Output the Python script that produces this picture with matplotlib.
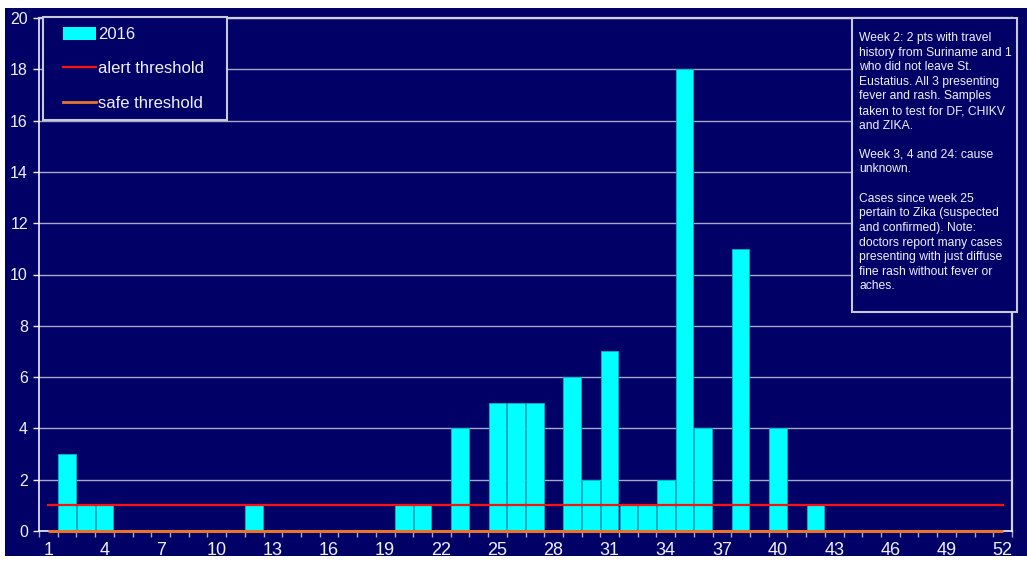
import numpy as np
import matplotlib
matplotlib.use("Agg")
import matplotlib.pyplot as plt
from matplotlib.patches import Rectangle, Patch
from matplotlib.lines import Line2D


##### Data

weeks = list(range(1, 53))
cases_2016 = [0, 3, 1, 1, 0, 0, 0, 0, 0, 0,
              0, 1, 0, 0, 0, 0, 0, 0, 0, 1,
              1, 0, 4, 0, 5, 5, 5, 0, 6, 2,
              7, 1, 1, 2, 18, 4, 0, 11, 0, 4,
              0, 1, 0, 0, 0, 0, 0, 0, 0, 0,
              0, 0]
alert_threshold = [1] * 52
safe_threshold = [0] * 52
xtick_labels = [1, 4, 7, 10, 13, 16, 19, 22, 25, 28, 31, 34, 37, 40, 43, 46, 49, 52]
ytick_values = [0, 2, 4, 6, 8, 10, 12, 14, 16, 18, 20]

note_text = ("Week 2: 2 pts with travel\n"
             "history from Suriname and 1\n"
             "who did not leave St.\n"
             "Eustatius. All 3 presenting\n"
             "fever and rash. Samples\n"
             "taken to test for DF, CHIKV\n"
             "and ZIKA.\n"
             "\n"
             "Week 3, 4 and 24: cause\n"
             "unknown.\n"
             "\n"
             "Cases since week 25\n"
             "pertain to Zika (suspected\n"
             "and confirmed). Note:\n"
             "doctors report many cases\n"
             "presenting with just diffuse\n"
             "fine rash without fever or\n"
             "aches.")


##### Style

navy = "#000066"
cyan = "#00ffff"
grid_col = "#a8a8c8"
text_col = "#f0f0ff"
alert_col = "#ff1010"
safe_col = "#e8742c"
box_col = "#c8c8d8"

plt.rcParams['font.family'] = ['Liberation Sans', 'DejaVu Sans']

W, H = 1027, 562
fig = plt.figure(figsize=(W / 100, H / 100), dpi=100)
fig.patch.set_facecolor("white")
# navy panel, leaving thin white margins like the original screenshot
fig.patches.append(Rectangle((5 / W, 6 / H), 1 - 5 / W, 1 - 14 / H,
                             transform=fig.transFigure, facecolor=navy,
                             edgecolor="none", zorder=-1))

ax = fig.add_axes([39 / W, 1 - 531 / H, (1012 - 39) / W, (531 - 18) / H])
ax.set_facecolor(navy)

ax.bar(weeks, cases_2016, width=0.94, color=cyan, edgecolor="#00b8c8",
       linewidth=0.6, zorder=3)
ax.plot(weeks, alert_threshold, color=alert_col, lw=1.6, zorder=4)
ax.plot(weeks, safe_threshold, color=safe_col, lw=2.2, zorder=4,
        solid_capstyle="butt", clip_on=False)

ax.set_xlim(0.5, 52.5)
ax.set_ylim(0, 20)

ax.set_yticks(ytick_values)
ax.set_yticklabels([str(v) for v in ytick_values])
ax.yaxis.grid(True, color=grid_col, lw=1.0, zorder=1)
ax.set_axisbelow(True)

ax.set_xticks(xtick_labels)
ax.set_xticklabels([str(v) for v in xtick_labels])
ax.set_xticks(np.arange(0.5, 53, 1), minor=True)
ax.tick_params(axis="x", which="major", length=0, pad=8,
               labelsize=13, labelcolor=text_col)
ax.tick_params(axis="x", which="minor", length=4, width=1, color=grid_col,
               direction="out")
ax.tick_params(axis="y", length=4, width=1, color=text_col, pad=4,
               labelsize=11.5, labelcolor=text_col)

for side in ["left", "bottom"]:
    ax.spines[side].set_color(text_col)
    ax.spines[side].set_linewidth(1.2)
for side in ["top", "right"]:
    ax.spines[side].set_color("#d0d0e0")
    ax.spines[side].set_linewidth(1.6)


##### Legend (frame drawn by hand to match the original box size)

fig.patches.append(Rectangle((43 / W, 1 - 120 / H), (227 - 43) / W,
                             (120 - 17) / H, transform=fig.transFigure,
                             facecolor=navy, edgecolor=box_col,
                             linewidth=1.5, zorder=5))
handles = [Patch(facecolor=cyan, edgecolor="none"),
           Line2D([], [], color=alert_col, lw=1.6),
           Line2D([], [], color=safe_col, lw=2.0)]
leg = fig.legend(handles, ["2016", "alert threshold", "safe threshold"],
                 loc="upper left", bbox_to_anchor=(63 / W, 1 - 27 / H),
                 borderaxespad=0, borderpad=0, fontsize=12,
                 labelcolor=text_col, frameon=False, handlelength=2.0,
                 handleheight=0.8, handletextpad=0.1, labelspacing=1.15)
leg.set_zorder(10)


##### Note box

fig.patches.append(Rectangle((852 / W, 1 - 312 / H), (1017 - 852) / W,
                             (312 - 18) / H, transform=fig.transFigure,
                             facecolor=navy, edgecolor=box_col,
                             linewidth=1.5, zorder=5))
fig.text(859 / W, 1 - 32 / H, note_text, ha="left", va="top",
         fontsize=8.75, color=text_col, linespacing=1.29, zorder=6)

fig.savefig("out.png", dpi=100, facecolor=fig.get_facecolor())
